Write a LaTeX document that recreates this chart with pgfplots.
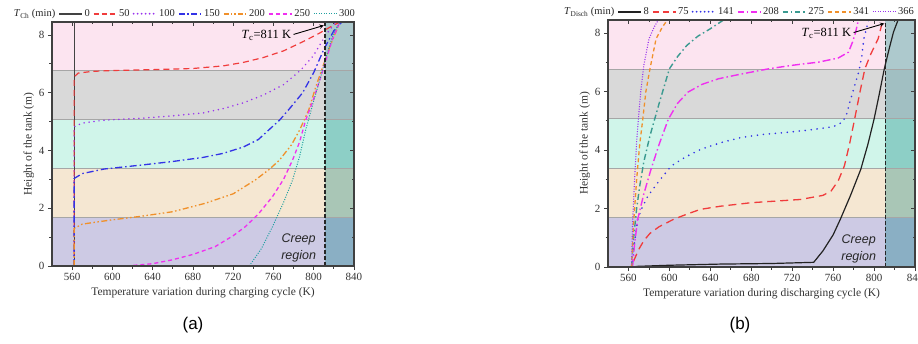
\documentclass[border=0pt]{standalone}
\usepackage{pgfplots}
\pgfplotsset{compat=1.18}
\usepackage{fontspec}
\setmainfont{Liberation Serif}
\newfontfamily\arialfont{Liberation Sans}

\definecolor{bPink}{HTML}{FCE4F0}
\definecolor{bGray}{HTML}{D9D9D9}
\definecolor{bMint}{HTML}{D0F5EA}
\definecolor{bBeige}{HTML}{F5E7D2}
\definecolor{bLav}{HTML}{CDCAE4}
\definecolor{cPink}{HTML}{ADC9CD}
\definecolor{cGray}{HTML}{A1BFC2}
\definecolor{cMint}{HTML}{8DCFC6}
\definecolor{cBeige}{HTML}{A9C6B6}
\definecolor{cLav}{HTML}{8AAFC4}
\definecolor{cRed}{HTML}{F03C3C}
\definecolor{cBlue}{HTML}{3333E6}
\definecolor{cPurple}{HTML}{9933EE}
\definecolor{cOrange}{HTML}{F0902A}
\definecolor{cMag}{HTML}{F030F0}
\definecolor{cTeal}{HTML}{20A0A0}
\definecolor{cTealB}{HTML}{3A9A90}
\definecolor{cBlack}{HTML}{222222}
\definecolor{axframe}{HTML}{404040}

\newcommand\bands{%
  \fill[bLav]   (axis cs:540,0)    rectangle (axis cs:840,1.69);
  \fill[bBeige] (axis cs:540,1.69) rectangle (axis cs:840,3.38);
  \fill[bMint]  (axis cs:540,3.38) rectangle (axis cs:840,5.07);
  \fill[bGray]  (axis cs:540,5.07) rectangle (axis cs:840,6.76);
  \fill[bPink]  (axis cs:540,6.76) rectangle (axis cs:840,8.45);
  \fill[cLav]   (axis cs:811,0)    rectangle (axis cs:840,1.69);
  \fill[cBeige] (axis cs:811,1.69) rectangle (axis cs:840,3.38);
  \fill[cMint]  (axis cs:811,3.38) rectangle (axis cs:840,5.07);
  \fill[cGray]  (axis cs:811,5.07) rectangle (axis cs:840,6.76);
  \fill[cPink]  (axis cs:811,6.76) rectangle (axis cs:840,8.45);
  \draw[black!35, line width=0.6pt] (axis cs:540,1.69) -- (axis cs:840,1.69);
  \draw[black!35, line width=0.6pt] (axis cs:540,3.38) -- (axis cs:840,3.38);
  \draw[black!35, line width=0.6pt] (axis cs:540,5.07) -- (axis cs:840,5.07);
  \draw[black!35, line width=0.6pt] (axis cs:540,6.76) -- (axis cs:840,6.76);
}
\newcommand\creep{%
  \draw[black!85, line width=1.6pt, dash pattern=on 4pt off 2pt] (axis cs:811,0) -- (axis cs:811,8.45);
  \node[font=\arialfont\itshape\fontsize{12.5}{17}\selectfont, align=center, text=black!85] at (axis cs:785,0.62) {Creep\\region};
  \node[font=\fontsize{12.5}{14}\selectfont, anchor=east] at (axis cs:781,8.0) {\textit{T}\textsubscript{c}=811 K};
  \draw[-stealth, line width=0.9pt] (axis cs:780,8.02) -- (axis cs:810,8.33);
}

% line styles
\tikzset{
  sA0/.style={draw=cBlack!85, line width=1.1pt},
  sA50/.style={draw=cRed, line width=1.2pt, dash pattern=on 6pt off 4pt},
  sA100/.style={draw=cPurple, line width=1.7pt, line cap=round, dash pattern=on 0pt off 5pt},
  sA150/.style={draw=cBlue, line width=1.3pt, dash pattern=on 7pt off 3pt on 1.5pt off 3pt},
  sA200/.style={draw=cOrange, line width=1.3pt, dash pattern=on 6pt off 2.5pt on 1.5pt off 2.5pt on 1.5pt off 2.5pt},
  sA250/.style={draw=cMag, line width=1.3pt, dash pattern=on 4pt off 3pt},
  sA300/.style={draw=cTeal, line width=1pt, dash pattern=on 1pt off 1.5pt},
  sB8/.style={draw=cBlack, line width=1.2pt},
  sB75/.style={draw=cRed, line width=1.3pt, dash pattern=on 8pt off 5pt},
  sB141/.style={draw=cBlue, line width=1.8pt, line cap=round, dash pattern=on 0pt off 6pt},
  sB208/.style={draw=cMag, line width=1.4pt, dash pattern=on 8pt off 3pt on 1.5pt off 3pt},
  sB275/.style={draw=cTealB, line width=1.4pt, dash pattern=on 6pt off 3pt on 1.5pt off 3pt},
  sB341/.style={draw=cOrange, line width=1.3pt, dash pattern=on 4pt off 3pt},
  sB366/.style={draw=cPurple, line width=1.1pt, dash pattern=on 1pt off 1.5pt},
}
\newcommand\legitem[2]{\hspace{3pt}\tikz[baseline=-0.6ex]\draw[#1] (0pt,0pt) -- (23pt,0pt);\hspace{1.5pt}#2}

\pgfplotsset{
  baseaxis/.style={
    scale only axis,
    xmin=540, xmax=840, ymin=0, ymax=8.45,
    xtick={560,600,...,840}, ytick={0,2,4,6,8},
    minor x tick num=1, minor y tick num=1,
    major tick length=4pt, minor tick length=2.5pt,
    axis line style={axframe, line width=1.2pt},
    every tick/.style={axframe, line width=0.8pt},
  },
  myaxis/.style={
    baseaxis,
    tick align=outside, tick pos=left,
    axis on top,
    /pgf/number format/assume math mode=true,
    ticklabel style={font=\fontsize{11}{12}\selectfont, text=black!80},
    label style={font=\fontsize{11.5}{13}\selectfont, text=black!80},
    ylabel={Height of the tank (m)},
    ylabel shift=-2pt,
  },
  topaxis/.style={
    baseaxis,
    tick align=inside, tick pos=right,
    xticklabels={}, yticklabels={},
  }
}

\begin{document}
\begin{tikzpicture}
\useasboundingbox (0,0) rectangle (918pt,343pt);

% ---------------- panel (a)
\begin{axis}[myaxis, name=A, at={(52pt,77pt)}, anchor=south west, width=302pt, height=244pt,
  xlabel={Temperature variation during charging cycle (K)}]
\bands
\addplot[sA0] coordinates {(562,0) (562,8.45)};
\addplot[sA50] coordinates {
(562,0) (562,6.55) (566,6.68) (580,6.74) (600,6.77) (640,6.8) (680,6.84) (710,6.93) (730,7.05) (750,7.22) (770,7.45) (790,7.78) (805,8.05) (815,8.25) (826,8.45)};
\addplot[sA100] coordinates {
(562,0) (562,4.82) (570,4.95) (592,5.05) (630,5.12) (660,5.2) (690,5.3) (710,5.45) (730,5.65) (750,5.92) (770,6.28) (787,6.78) (800,7.3) (812,8.0) (822,8.45)};
\addplot[sA150] coordinates {
(562,0) (562,3.03) (570,3.2) (592,3.36) (630,3.5) (660,3.62) (690,3.76) (710,3.9) (730,4.12) (745,4.38) (755,4.7) (766,5.05) (776,5.45) (789,6.0) (800,6.7) (810,7.5) (820,8.15) (828,8.45)};
\addplot[sA200] coordinates {
(562,0) (562,1.3) (570,1.45) (600,1.6) (626,1.71) (660,1.88) (692,2.17) (720,2.5) (742,2.98) (756,3.35) (766,3.67) (778,4.2) (786,4.71) (795,5.4) (802,6.2) (810,7.0) (816,7.59) (826,8.45)};
\addplot[sA250] coordinates {
(614,0) (640,0.08) (659,0.21) (680,0.4) (702,0.67) (720,1.05) (732,1.36) (745,1.8) (759,2.4) (770,3.0) (779,3.67) (786,4.3) (792,5.05) (800,5.8) (806,6.44) (812,7.1) (818,7.8) (826,8.45)};
\addplot[sA300] coordinates {
(736,0) (748,0.6) (759,1.36) (770,2.2) (779,2.98) (786,3.8) (792,4.71) (799,5.6) (806,6.44) (812,7.2) (819,8.0) (826,8.45)};
\creep
\end{axis}
\begin{axis}[topaxis, at={(52pt,77pt)}, anchor=south west, width=302pt, height=244pt]
\end{axis}
\node[anchor=south east, inner sep=0pt, font=\fontsize{10.5}{11}\selectfont, text=black!85]
  at ([xshift=1pt,yshift=3pt]A.north east)
  {\textit{T}\textsubscript{Ch} (min)\legitem{sA0, line width=1.8pt}{0}\legitem{sA50, line width=1.8pt, dash pattern=on 5pt off 3pt}{50}\legitem{sA100, line width=2pt, dash pattern=on 0pt off 4pt}{100}\legitem{sA150, line width=1.8pt, dash pattern=on 6pt off 2.5pt on 1.5pt off 2.5pt}{150}\legitem{sA200, line width=1.8pt, dash pattern=on 5pt off 2pt on 1.5pt off 2pt on 1.5pt off 2pt}{200}\legitem{sA250, line width=1.8pt}{250}\legitem{sA300, line width=1.5pt}{300}};

% ---------------- panel (b)
\begin{axis}[myaxis, name=B, at={(608pt,76pt)}, anchor=south west, width=307pt, height=247pt,
  xlabel={Temperature variation during discharging cycle (K)}]
\bands
\addplot[sB8] coordinates {
(567,0.02) (600,0.06) (650,0.1) (700,0.12) (741,0.16) (750,0.55) (760,1.1) (767,1.63) (777,2.45) (787,3.34) (794,4.2) (800,5.06) (805,5.9) (810,6.78) (815,7.5) (819,8.04) (824,8.5)};
\addplot[sB75] coordinates {
(565,0.2) (570,0.6) (575,0.9) (581,1.15) (590,1.38) (604,1.63) (615,1.78) (630,1.97) (650,2.08) (680,2.2) (728,2.31) (750,2.45) (758,2.6) (765,2.95) (771,3.46) (776,4.2) (781,5.06) (786,5.95) (791,6.78) (797,7.3) (804,7.81) (809,8.5)};
\addplot[sB141] coordinates {
(564,0) (565,0.6) (569,1.63) (573,2.0) (579,2.43) (590,2.95) (602,3.46) (615,3.75) (631,4.03) (650,4.25) (670,4.43) (690,4.53) (713,4.6) (740,4.7) (760,4.8) (769,4.95) (773,5.2) (776,5.6) (781,6.2) (785,6.67) (788,7.2) (790,7.81) (795,8.5)};
\addplot[sB208] coordinates {
(564,0) (566,0.8) (569,1.63) (575,2.5) (582,3.34) (590,4.2) (599,5.06) (608,5.6) (618,5.98) (632,6.25) (648,6.44) (670,6.6) (697,6.78) (720,6.9) (746,7.01) (765,7.15) (775,7.35) (779,7.7) (782,8.04) (785,8.5)};
\addplot[sB275] coordinates {
(563,0) (565,1.0) (568,2.0) (571,2.77) (575,3.6) (581,4.49) (590,5.6) (600,6.78) (608,7.2) (617,7.58) (628,7.9) (640,8.15) (655,8.5)};
\addplot[sB341] coordinates {
(563,0) (565,1.5) (568,3.0) (571,4.2) (574,5.06) (577,6.0) (581,6.78) (587,7.81) (593,8.2) (599,8.5)};
\addplot[sB366] coordinates {
(563,0) (564,1.5) (566,3.0) (568,4.3) (570,5.2) (572,6.0) (575,6.9) (580,7.8) (585,8.2) (590,8.5)};
\creep
\end{axis}
\begin{axis}[topaxis, at={(608pt,76pt)}, anchor=south west, width=307pt, height=247pt]
\end{axis}
\node[anchor=south east, inner sep=0pt, font=\fontsize{10.5}{11}\selectfont, text=black!85]
  at ([xshift=-1pt,yshift=3pt]B.north east)
  {\textit{T}\textsubscript{Disch} (min)\legitem{sB8, line width=1.8pt}{8}\legitem{sB75, line width=1.8pt, dash pattern=on 6pt off 4pt}{75}\legitem{sB141, line width=2pt, dash pattern=on 0pt off 4pt}{141}\legitem{sB208, line width=1.8pt, dash pattern=on 6pt off 3pt on 1.5pt off 3pt}{208}\legitem{sB275, line width=1.8pt, dash pattern=on 5pt off 3pt on 1.5pt off 3pt}{275}\legitem{sB341, line width=1.8pt}{341}\legitem{sB366, line width=1.5pt}{366}};

\node[font=\arialfont\fontsize{17}{20}\selectfont] at (193pt,18pt) {(a)};
\node[font=\arialfont\fontsize{17}{20}\selectfont] at (740pt,18pt) {(b)};
\end{tikzpicture}
\end{document}
